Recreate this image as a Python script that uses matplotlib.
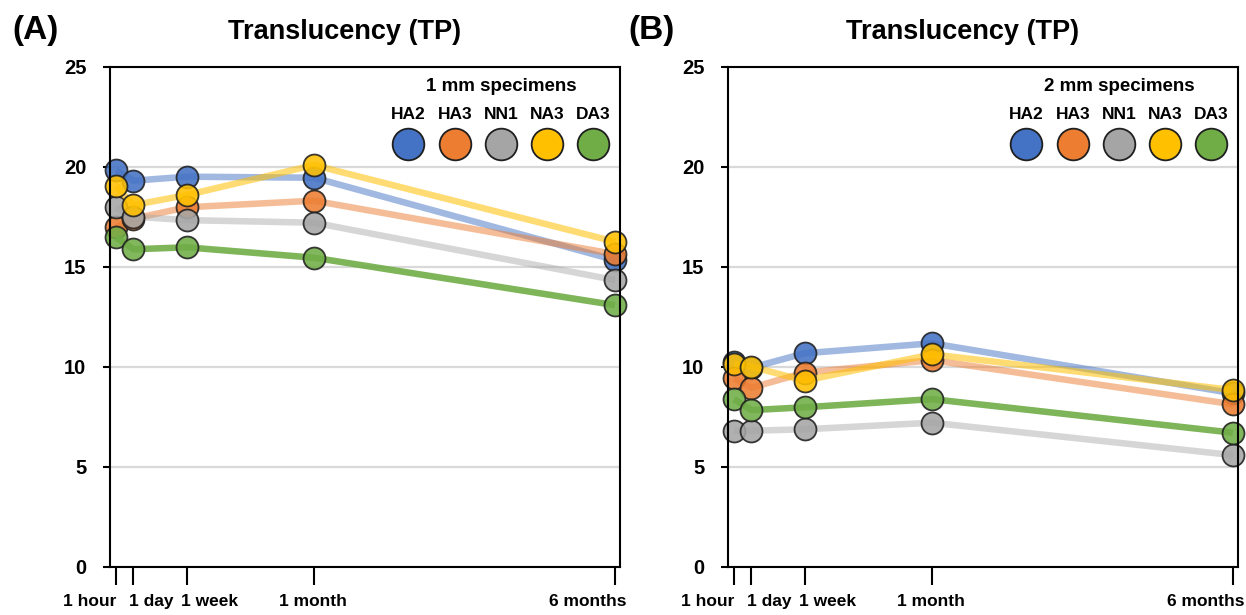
import matplotlib
matplotlib.use("Agg")
import matplotlib.pyplot as plt

plt.rcParams['font.family'] = ['Liberation Sans', 'DejaVu Sans']

# ---------------- data ----------------
time_labels = ["1 hour", "1 day", "1 week", "1 month", "6 months"]
time_pos = [1.2, 4.6, 15.0, 40.0, 99.0]
materials = ["HA2", "HA3", "NN1", "NA3", "DA3"]

# 1 mm specimens (panel A)
a_HA2 = [19.83, 19.30, 19.50, 19.45, 15.33]
a_HA3 = [16.97, 17.40, 17.97, 18.30, 15.63]
a_NN1 = [17.97, 17.50, 17.33, 17.20, 14.33]
a_NA3 = [19.03, 18.08, 18.58, 20.08, 16.25]
a_DA3 = [16.47, 15.87, 15.97, 15.45, 13.08]

# 2 mm specimens (panel B)
b_HA2 = [10.25, 9.95, 10.67, 11.17, 8.67]
b_HA3 = [9.42, 8.95, 9.70, 10.33, 8.12]
b_NN1 = [6.80, 6.80, 6.87, 7.20, 5.58]
b_NA3 = [10.15, 10.00, 9.30, 10.62, 8.83]
b_DA3 = [8.38, 7.83, 7.97, 8.38, 6.70]

# ---------------- style ----------------
colors = ["#4472C4", "#ED7D31", "#A5A5A5", "#FFC000", "#70AD47"]
line_alpha = [0.5, 0.5, 0.45, 0.55, 0.9]
edge = "#1f1f1f"
# horizontal placement of the time labels (axes fraction)
label_x = [-0.039, 0.080, 0.196, 0.397, 0.937]

W, H = 1246, 615
fig = plt.figure(figsize=(W / 100, H / 100), dpi=100)

panels = [
    ("(A)", "1 mm specimens", [a_HA2, a_HA3, a_NN1, a_NA3, a_DA3], 110, 12),
    ("(B)", "2 mm specimens", [b_HA2, b_HA3, b_NN1, b_NA3, b_DA3], 728, 628),
]

for letter, spec, series, left_px, letter_px in panels:
    ax = fig.add_axes([left_px / W, 48.3 / H, 510 / W, 500 / H])
    for i, (name, vals) in enumerate(zip(materials, series)):
        ax.plot(time_pos, vals, color=colors[i], lw=4.7, alpha=line_alpha[i],
                solid_capstyle='butt', zorder=3 + 2 * i)
        ax.plot(time_pos, vals, linestyle='none', marker='o', ms=15.8,
                mfc=colors[i], mec=edge, mew=1.3, alpha=0.88,
                zorder=4 + 2 * i, clip_on=False)

    ax.set_xlim(0, 100)
    ax.set_ylim(0, 25)
    ax.set_yticks([0, 5, 10, 15, 20, 25])
    ax.set_xticks(time_pos)
    ax.set_xticklabels([])
    for lx, lab in zip(label_x, time_labels):
        ax.text(lx, -0.069, lab, transform=ax.transAxes, ha='center',
                va='center', fontsize=12.5, fontweight='bold')
    ax.grid(axis='y', color='#d9d9d9', lw=1.6, zorder=0)
    ax.grid(axis='x', visible=False)
    for s in ax.spines.values():
        s.set_color('black')
        s.set_linewidth(1.5)
        s.set_zorder(20)
    ax.tick_params(axis='y', direction='out', length=5, width=1.5, pad=12,
                   labelsize=14.5)
    ax.tick_params(axis='x', direction='out', length=13, width=1.5)
    for lab in ax.get_yticklabels():
        lab.set_fontweight('bold')

    # legend (custom, inside the plot)
    leg_x = [0.585, 0.676, 0.767, 0.857, 0.947]
    ax.text(0.767, 0.961, spec, transform=ax.transAxes, ha='center',
            va='center', fontsize=13.5, fontweight='bold', zorder=30)
    for i, name in enumerate(materials):
        ax.text(leg_x[i], 0.905, name, transform=ax.transAxes, ha='center',
                va='center', fontsize=12.5, fontweight='bold', zorder=30)
        ax.plot([leg_x[i]], [0.845], transform=ax.transAxes, marker='o',
                ms=22.8, mfc=colors[i], mec=edge, mew=1.3, linestyle='none',
                zorder=30, clip_on=False)

    ax.text(0.46, 1.069, "Translucency (TP)", transform=ax.transAxes,
            ha='center', va='center', fontsize=19.5, fontweight='bold')
    fig.text(letter_px / W, (H - 30) / H, letter, ha='left', va='center',
             fontsize=24, fontweight='bold')

fig.savefig("out.png", dpi=100)
